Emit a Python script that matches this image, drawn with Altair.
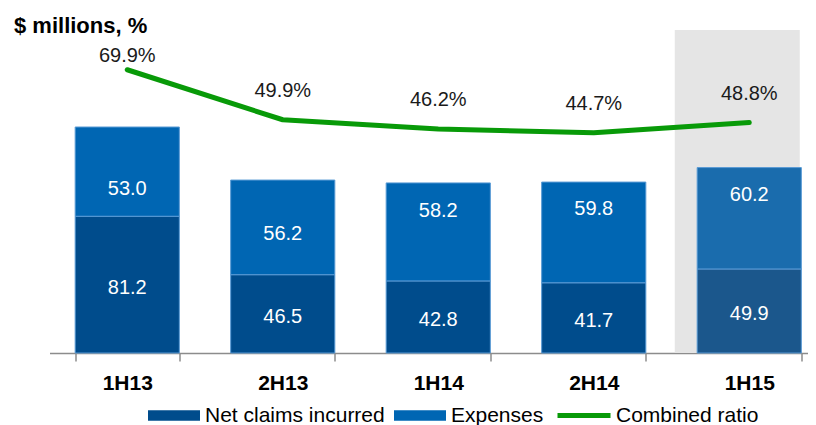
import altair as alt
import pandas as pd

# ---- data ----
periods = ["1H13", "2H13", "1H14", "2H14", "1H15"]
net_claims = [81.2, 46.5, 42.8, 41.7, 49.9]
expenses = [53.0, 56.2, 58.2, 59.8, 60.2]
combined_ratio = [69.9, 49.9, 46.2, 44.7, 48.8]
series_names = ["Net claims incurred", "Expenses"]
line_name = "Combined ratio"
highlight_period = "1H15"
title_text = "$ millions, %"

rows = []
for p, n, e in zip(periods, net_claims, expenses):
    rows.append({"period": p, "series": series_names[0], "value": n, "order": 0})
    rows.append({"period": p, "series": series_names[1], "value": e, "order": 1})
bars_df = pd.DataFrame(rows)
line_df = pd.DataFrame({"period": periods, "ratio": combined_ratio, "name": line_name})
hl_df = pd.DataFrame({"period": [highlight_period]})
title_df = pd.DataFrame({"t": [title_text]})

# ---- style ----
FONT = "Liberation Sans, Arial, sans-serif"
C_NET, C_EXP = "#004C8C", "#0066B3"
C_NET_HL, C_EXP_HL = "#1B578C", "#1A6CAD"
GREEN = "#089A08"
W, H = 758.5, 323
# label nudges (pixels) as placed in the original slide
EXP_LABEL_DY = {"1H13": 17, "2H13": 7, "1H14": -21, "2H14": -23, "1H15": -23}
NET_LABEL_DY = 3

xscale = alt.Scale(domain=periods, range=[0, 777.5], paddingInner=0.33, paddingOuter=0.165)
xaxis = alt.Axis(title=None, labelFont=FONT, labelFontSize=21, labelFontWeight="bold",
                 labelColor="black", domainColor="#8c8c8c", domainWidth=1.5,
                 tickColor="#8c8c8c", tickSize=8, tickWidth=1.5, tickBand="extent",
                 labelPadding=11, grid=False, labelAngle=0)
X = alt.X("period:N", scale=xscale, axis=xaxis)

bar_y = alt.Scale(domain=[0, 191.8], nice=False, zero=False)
line_y = alt.Scale(domain=[-43.4, 85.8], nice=False, zero=False)

bg = alt.Chart(hl_df).mark_bar(color="#E5E5E5", width=125, xOffset=-12).encode(
    x=X, y=alt.value(0), y2=alt.value(H)
)

bars = alt.Chart(bars_df).mark_bar(stroke="#5A9BD5", strokeWidth=1).encode(
    x=X,
    y=alt.Y("value:Q", stack="zero", scale=bar_y, axis=None),
    fill=alt.Fill(
        "series:N",
        scale=alt.Scale(domain=series_names, range=[C_NET, C_EXP]),
        legend=alt.Legend(title=None, orient="none", legendX=98.5, legendY=359.5,
                          direction="horizontal", symbolType="M-1,-0.2H1V0.2H-1Z",
                          symbolSize=2704, symbolStrokeWidth=0, labelFont=FONT,
                          labelFontSize=21, labelColor="black", labelOffset=5,
                          labelLimit=0, columnPadding=9, padding=0),
        condition=[
            {"test": f"datum.period === '{highlight_period}' && datum.series === '{series_names[0]}'",
             "value": C_NET_HL},
            {"test": f"datum.period === '{highlight_period}' && datum.series === '{series_names[1]}'",
             "value": C_EXP_HL},
        ],
    ),
    order=alt.Order("order:Q"),
)

stacked = alt.Chart(bars_df).transform_stack(
    stack="value", as_=["v0", "v1"], groupby=["period"],
    sort=[alt.SortField("order", "ascending")]
).transform_calculate(mid="(datum.v0 + datum.v1) / 2")

label_layers = [
    stacked.transform_filter(f"datum.series === '{series_names[0]}'").mark_text(
        font=FONT, fontSize=20, color="white", baseline="middle", dy=NET_LABEL_DY
    ).encode(x=X, y=alt.Y("mid:Q", scale=bar_y, axis=None),
             text=alt.Text("value:Q", format=".1f"))
]
for p in periods:
    label_layers.append(
        stacked.transform_filter(
            f"datum.series === '{series_names[1]}' && datum.period === '{p}'"
        ).mark_text(
            font=FONT, fontSize=20, color="white", baseline="middle", dy=EXP_LABEL_DY[p]
        ).encode(x=X, y=alt.Y("mid:Q", scale=bar_y, axis=None),
                 text=alt.Text("value:Q", format=".1f"))
    )

line = alt.Chart(line_df).mark_line(strokeWidth=5, strokeCap="round", strokeJoin="round").encode(
    x=X,
    y=alt.Y("ratio:Q", scale=line_y, axis=None),
    stroke=alt.Stroke("name:N", scale=alt.Scale(domain=[line_name], range=[GREEN]),
                      legend=alt.Legend(title=None, orient="none", legendX=505.5, legendY=356.5,
                                        symbolType="stroke", symbolSize=2809,
                                        symbolStrokeWidth=5, labelFont=FONT,
                                        labelFontSize=21, labelColor="black",
                                        labelOffset=3, labelLimit=0, padding=0)),
)

lab_base = alt.Chart(line_df).transform_calculate(lbl="format(datum.ratio, '.1f') + '%'")
lab_first = lab_base.transform_filter(f"datum.period === '{periods[0]}'").mark_text(
    font=FONT, fontSize=20, color="#1a1a1a", baseline="middle", dy=-14
).encode(x=X, y=alt.Y("ratio:Q", scale=line_y, axis=None), text="lbl:N")
lab_rest = lab_base.transform_filter(f"datum.period !== '{periods[0]}'").mark_text(
    font=FONT, fontSize=20, color="#1a1a1a", baseline="middle", dy=-29
).encode(x=X, y=alt.Y("ratio:Q", scale=line_y, axis=None), text="lbl:N")

title = alt.Chart(title_df).mark_text(
    font=FONT, fontSize=22, fontWeight="bold", align="left", baseline="alphabetic", color="black"
).encode(x=alt.value(-35.5), y=alt.value(2.5), text="t:N")

left = alt.layer(bg, bars, *label_layers)
right = alt.layer(line, lab_first, lab_rest)

chart = alt.layer(left, right, title).resolve_scale(y="independent").properties(
    width=W, height=H,
    autosize=alt.AutoSizeParams(type="none"),
    padding={"left": 41.5, "top": 22, "right": 0, "bottom": 72},
).configure_view(stroke=None)

chart.save("out.html", embed_options={"renderer": "svg", "actions": False})
